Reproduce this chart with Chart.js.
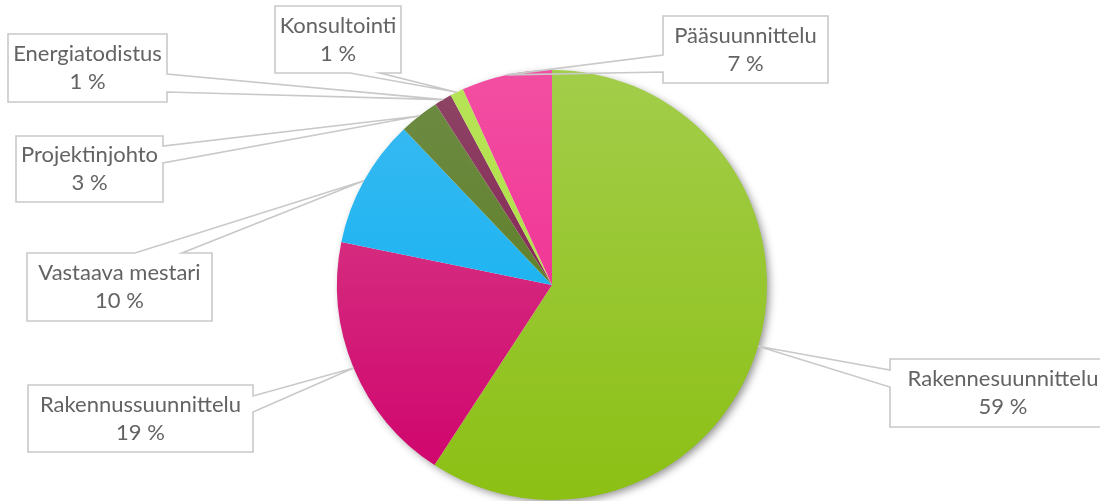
<!DOCTYPE html>
<html>
<head>
<meta charset="utf-8">
<script src="https://cdn.jsdelivr.net/npm/chart.js@4"></script>
<style>
  html, body { margin: 0; padding: 0; background: #fff; }
  #wrap { width: 1100px; height: 501px; }
</style>
</head>
<body>
<div id="wrap"><canvas id="chart" width="1100" height="501"></canvas></div>
<script>
// data (shares of the total)
const labels = ["Rakennesuunnittelu", "Rakennussuunnittelu", "Vastaava mestari", "Projektinjohto", "Energiatodistus", "Konsultointi", "Pääsuunnittelu"];
const values = [59.2, 19.0, 9.7, 3.0, 1.3, 1.0, 6.8];

// gradient colours, top -> bottom of the pie
const topColors = ["#a2cd4a", "#d9478c", "#3dbaf2", "#6e8d46", "#8e4766", "#b6e356", "#f24fa2"];
const bottomColors = ["#8cc014", "#cf006b", "#00aff0", "#557412", "#7f0a48", "#aee041", "#f01e8b"];

// callout boxes: box rect, which edge the pointer leaves from, and the two points on that edge
const callouts = [
  { x: 890, y: 359, w: 226, h: 68, side: "left", a: 370, b: 387 },
  { x: 28, y: 385, w: 225, h: 67, side: "right", a: 396, b: 412 },
  { x: 27, y: 253, w: 185, h: 68, side: "top", a: 135, b: 182 },
  { x: 16, y: 136, w: 147, h: 66, side: "right", a: 146, b: 163 },
  { x: 8, y: 34, w: 159, h: 68, side: "right", a: 74, b: 92 },
  { x: 275, y: 6, w: 126, h: 67, side: "bottom", a: 350, b: 380 },
  { x: 663, y: 16, w: 165, h: 67, side: "left", a: 55, b: 72 }
];

const total = values.reduce((s, v) => s + v, 0);

// vertical gradient across the whole pie, one per slice
function sliceFill(c) {
  const i = c.dataIndex;
  const area = c.chart.chartArea;
  if (!area) return bottomColors[i];
  const cy = (area.top + area.bottom) / 2;
  const r = Math.min(area.right - area.left, area.bottom - area.top) / 2;
  const g = c.chart.ctx.createLinearGradient(0, cy - r, 0, cy + r);
  g.addColorStop(0, topColors[i]);
  g.addColorStop(1, bottomColors[i]);
  return g;
}

// soft shadow under the whole pie
const pieShadow = {
  id: "pieShadow",
  beforeDatasetsDraw(chart) {
    const arc = chart.getDatasetMeta(0).data[0];
    if (!arc) return;
    const ctx = chart.ctx;
    ctx.save();
    ctx.shadowColor = "rgba(0,0,0,0.45)";
    ctx.shadowBlur = 9;
    ctx.shadowOffsetX = 3;
    ctx.shadowOffsetY = 3;
    ctx.beginPath();
    ctx.arc(arc.x, arc.y, arc.outerRadius - 1, 0, Math.PI * 2);
    ctx.fillStyle = "#ffffff";
    ctx.fill();
    ctx.restore();
  }
};

// boxed labels with wedge pointers
const calloutLabels = {
  id: "calloutLabels",
  afterDatasetsDraw(chart) {
    const ctx = chart.ctx;
    const arcs = chart.getDatasetMeta(0).data;
    arcs.forEach((arc, i) => {
      const box = callouts[i];
      const mid = (arc.startAngle + arc.endAngle) / 2;
      const tip = [arc.x + Math.cos(mid) * arc.outerRadius, arc.y + Math.sin(mid) * arc.outerRadius];
      const { x, y, w, h, side, a, b } = box;

      const pts = [[x, y]];
      if (side === "top") pts.push([a, y], tip, [b, y]);
      pts.push([x + w, y]);
      if (side === "right") pts.push([x + w, a], tip, [x + w, b]);
      pts.push([x + w, y + h]);
      if (side === "bottom") pts.push([b, y + h], tip, [a, y + h]);
      pts.push([x, y + h]);
      if (side === "left") pts.push([x, b], tip, [x, a]);

      ctx.save();
      ctx.fillStyle = "#ffffff";
      ctx.fillRect(x, y, w, h);
      ctx.beginPath();
      pts.forEach((p, k) => (k ? ctx.lineTo(p[0], p[1]) : ctx.moveTo(p[0], p[1])));
      ctx.closePath();
      ctx.strokeStyle = "#c9c9c9";
      ctx.lineWidth = 1.6;
      ctx.lineJoin = "miter";
      ctx.stroke();

      ctx.fillStyle = "#636363";
      ctx.font = "22px Lato, 'Open Sans', sans-serif";
      ctx.textAlign = "center";
      ctx.textBaseline = "middle";
      const cx = x + w / 2;
      const cy = y + h / 2;
      ctx.fillText(labels[i], cx, cy - 14);
      ctx.fillText(Math.round((values[i] / total) * 100) + " %", cx, cy + 14);
      ctx.restore();
    });
  }
};

new Chart(document.getElementById("chart"), {
  type: "pie",
  data: {
    labels: labels,
    datasets: [{
      data: values,
      backgroundColor: sliceFill,
      borderWidth: 0
    }]
  },
  options: {
    responsive: false,
    animation: false,
    layout: { padding: { top: 70, bottom: 1, left: 4, right: 0 } },
    plugins: {
      legend: { display: false },
      tooltip: { enabled: false }
    }
  },
  plugins: [pieShadow, calloutLabels]
});
</script>
</body>
</html>
